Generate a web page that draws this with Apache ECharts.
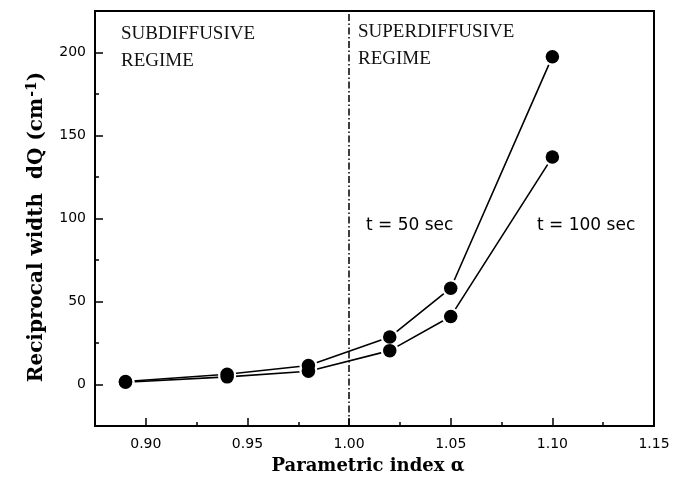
<!DOCTYPE html>
<html>
<head>
<meta charset="utf-8">
<script src="https://cdn.jsdelivr.net/npm/echarts@6/dist/echarts.min.js"></script>
<style>
  html, body { margin: 0; padding: 0; background: #fff; }
  #chart { width: 695px; height: 480px; }
</style>
</head>
<body>
<div id="chart"></div>
<script>
// Parametric index α and reciprocal width dQ (cm^-1) for two times
const alpha = [0.89, 0.94, 0.98, 1.02, 1.05, 1.10];
const width50 = [1.8, 6.2, 11.4, 28.6, 58, 197.5];
const width100 = [1.4, 4.6, 8.0, 20.4, 41, 137];

// Axis ticks
const xMajorTicks = [0.90, 0.95, 1.00, 1.05, 1.10, 1.15];
const xMinorTicks = [0.925, 0.975, 1.025, 1.075, 1.125];
const yMajorTicks = [0, 50, 100, 150, 200];
const yMinorTicks = [25, 75, 125, 175];

// Boundary between the two regimes
const regimeBoundary = 1.00;

const pairs = (xs, ys) => xs.map((x, i) => [x, ys[i]]);

const sans = 'DejaVu Sans';
const serif = 'Liberation Serif';
const boldSerif = 'DejaVu Serif';

const X_MIN = 0.875, X_MAX = 1.15;
const Y_MIN = -25, Y_MAX = 225;

const chart = echarts.init(document.getElementById('chart'), null, { renderer: 'canvas' });

function lineSeries(data) {
  return {
    type: 'line',
    data: data,
    symbol: 'none',
    lineStyle: { color: '#000', width: 1.6 },
    z: 2,
    animation: false
  };
}
function haloSeries(data) {
  return {
    type: 'scatter',
    data: data,
    symbol: 'circle',
    symbolSize: 18,
    itemStyle: { color: '#fff', opacity: 1 },
    z: 3,
    silent: true,
    animation: false
  };
}
function dotSeries(data) {
  return {
    type: 'scatter',
    data: data,
    symbol: 'circle',
    symbolSize: 13.5,
    itemStyle: { color: '#000', opacity: 1 },
    z: 4,
    animation: false
  };
}

const d50 = pairs(alpha, width50);
const d100 = pairs(alpha, width100);

const tickStyle = { color: '#000', width: 1.5 };

chart.setOption({
  backgroundColor: '#fff',
  animation: false,
  grid: {
    left: 95, top: 11, right: 41, bottom: 54,
    show: true, borderColor: '#000', borderWidth: 2, backgroundColor: 'transparent'
  },
  xAxis: [
    {
      type: 'value', min: X_MIN, max: X_MAX, position: 'bottom',
      splitLine: { show: false },
      axisLine: { show: false, onZero: false },
      axisTick: { show: true, inside: true, length: 8, customValues: xMajorTicks, lineStyle: tickStyle },
      axisLabel: { customValues: xMajorTicks, margin: 11, color: '#000',
                   fontFamily: sans, fontSize: 14,
                   formatter: v => v.toFixed(2) },
      name: 'Parametric index α',
      nameLocation: 'middle',
      nameGap: 31,
      nameTextStyle: { fontFamily: boldSerif, fontWeight: 'bold', fontSize: 18, color: '#000',
                       padding: [0, 13, 0, 0] }
    },
    {
      type: 'value', min: X_MIN, max: X_MAX, position: 'bottom',
      splitLine: { show: false },
      axisLine: { show: false, onZero: false },
      axisTick: { show: true, inside: true, length: 4, customValues: xMinorTicks, lineStyle: tickStyle },
      axisLabel: { show: false }
    }
  ],
  yAxis: [
    {
      type: 'value', min: Y_MIN, max: Y_MAX, position: 'left',
      splitLine: { show: false },
      axisLine: { show: false, onZero: false },
      axisTick: { show: true, inside: true, length: 8, customValues: yMajorTicks, lineStyle: tickStyle },
      axisLabel: { customValues: yMajorTicks, margin: 9, color: '#000',
                   fontFamily: sans, fontSize: 14 },
      name: 'Reciprocal width  dQ (cm{sup|-1})',
      nameLocation: 'middle',
      nameGap: 46,
      nameTextStyle: {
        fontFamily: boldSerif, fontWeight: 'bold', fontSize: 20, color: '#000',
        padding: [0, 17, 0, 0],
        rich: {
          sup: { fontFamily: boldSerif, fontWeight: 'bold', fontSize: 14, color: '#000',
                 verticalAlign: 'top', padding: [0, 0, 10, 1] }
        }
      }
    },
    {
      type: 'value', min: Y_MIN, max: Y_MAX, position: 'left', offset: 0,
      splitLine: { show: false },
      axisLine: { show: false, onZero: false },
      axisTick: { show: true, inside: true, length: 4, customValues: yMinorTicks, lineStyle: tickStyle },
      axisLabel: { show: false }
    }
  ],
  graphic: [
    { type: 'text', left: 121, top: 21, z: 10,
      style: { text: 'SUBDIFFUSIVE\nREGIME', fontFamily: serif, fontSize: 19, lineHeight: 27, fill: '#111' } },
    { type: 'text', left: 358, top: 19, z: 10,
      style: { text: 'SUPERDIFFUSIVE\nREGIME', fontFamily: serif, fontSize: 19, lineHeight: 27, fill: '#111' } },
    { type: 'text', left: 366, top: 217, z: 10,
      style: { text: 't = 50 sec', fontFamily: sans, fontSize: 17, fill: '#000' } },
    { type: 'text', left: 537, top: 217, z: 10,
      style: { text: 't = 100 sec', fontFamily: sans, fontSize: 17, fill: '#000' } }
  ],
  series: [
    Object.assign(lineSeries(d50), {
      name: 't = 50 sec',
      markLine: {
        silent: true,
        symbol: 'none',
        label: { show: false },
        lineStyle: { color: '#000', width: 1.5, type: [7, 2.5, 1.5, 2.5] },
        data: [{ xAxis: regimeBoundary }],
        animation: false
      }
    }),
    Object.assign(lineSeries(d100), { name: 't = 100 sec' }),
    haloSeries(d50),
    haloSeries(d100),
    dotSeries(d50),
    dotSeries(d100)
  ]
});
</script>
</body>
</html>
